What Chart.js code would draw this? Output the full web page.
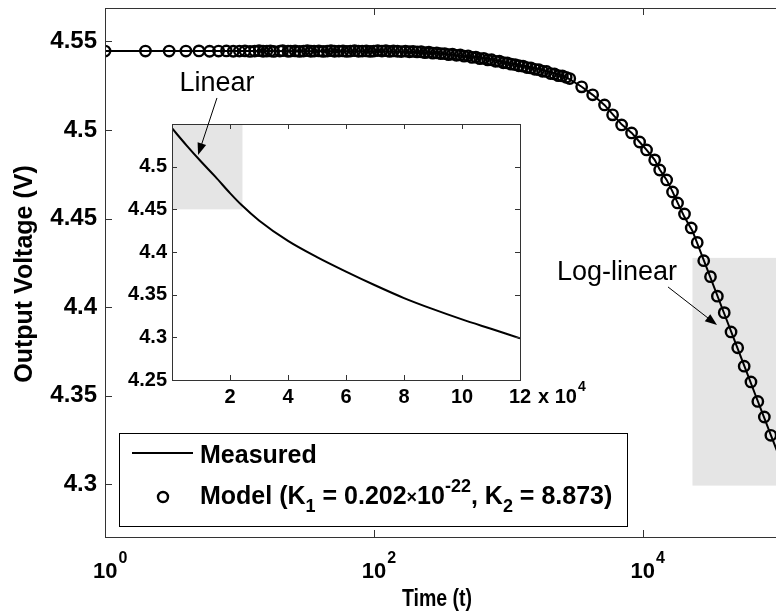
<!DOCTYPE html>
<html><head><meta charset="utf-8">
<script src="https://cdn.jsdelivr.net/npm/chart.js@4.4.1/dist/chart.umd.min.js"></script>
<style>
html,body{margin:0;padding:0;background:#fff;overflow:hidden;width:776px;height:612px;}
#main{position:absolute;left:0;top:0;}
#inset{position:absolute;left:110px;top:60px;}
</style></head><body>
<canvas id="main" width="790" height="612"></canvas>
<canvas id="inset" width="490" height="360"></canvas>
<script>
// main plot: measured curve (line) and model (circles), time on log axis
const measT = [1,10,100,200,300,500,700,1000,1500,2000,2700,3500,4250,5200,6000,7000,8300,9500,10700,12300,13400,15100,16700,18200,20500,23500,30000,40000,50000,60000,70000,80000,90000,100000];
const measV = [4.5445,4.5445,4.5444,4.544,4.5432,4.5415,4.5401,4.5378,4.5353,4.533,4.5298,4.5245,4.5198,4.5141,4.5088,4.503,4.4983,4.4932,4.4887,4.4831,4.4777,4.4718,4.4652,4.459,4.4508,4.443,4.4221,4.3974,4.3783,4.3626,4.3493,4.3379,4.3278,4.3189];

const modelT = [1,2,3,4,5,6,7,8,9,10,11,12,13,14,15,16,17,18,20,21,23,24,26,28,30,32,34,36,39,42,45,48,51,55,59,63,67,72,77,82,88,94,100,
  107,115,123,131,140,150,160,172,184,196,210,225,240,257,275,294,315,337,360,385,412,440,470,503,538,575,615,658,704,752,
  805,860,920,985,1050,1125,1200,1290,1380,1475,1580,1690,1800,1930,2065,2210,2360,2530,2700,
  2870,3520,4250,5210,5980,6980,8280,9500,10700,12300,13400,15100,16700,18200,
  20500,23000,25500,28500,32000,36000,40500,45500,51000,57000,64000,72000,80500,90000];
const modelV = [4.5445,4.5445,4.5445,4.5445,4.5446,4.5444,4.5445,4.5446,4.5444,4.5445,4.5446,4.5443,4.5445,4.5447,4.5444,4.5445,4.5446,4.5443,
  4.5445,4.5447,4.5444,4.5445,4.5446,4.5443,4.5445,4.5447,4.5444,4.5445,4.5446,4.5443,4.5445,4.5447,4.5444,4.5445,4.5446,4.5443,4.5445,4.5447,4.5444,4.5445,4.5446,4.5443,4.5445,
  4.5448,4.5445,4.5447,4.5443,4.5446,4.5444,4.5442,4.5445,4.5441,4.5443,
  4.544,4.5441,4.5436,4.5439,4.5433,4.5435,4.543,4.5431,4.5425,4.5428,
  4.5421,4.5423,4.5416,4.5418,4.5409,4.5411,4.5402,4.5404,4.5395,4.5396,
  4.5387,4.5388,4.5379,4.5378,4.5371,4.5369,4.5362,4.536,4.5352,4.535,
  4.5342,4.534,4.5331,4.533,4.5318,4.5316,4.5306,4.5305,4.5297,
  4.529,4.5243,4.5198,4.5141,4.5085,4.5028,4.4983,4.4932,4.4887,4.4831,4.4774,4.4718,4.465,4.4588,
  4.4526,4.4447,4.4365,4.4262,4.4172,4.4062,4.3969,4.386,4.3771,4.3667,4.3578,4.3468,4.338,4.3277];

const mainXTicks = [1, 100, 10000];
const mainXExp = ['0', '2', '4'];
const mainYTicks = [4.3, 4.35, 4.4, 4.45, 4.5, 4.55];

// inset: measured voltage vs time (x 10^4), linear axis
const insetT = [0,0.5,1,1.5,2,2.4,3,4,5,6,7,8,9,10,11,12];
const insetV = [4.545,4.525,4.506,4.488,4.469,4.455,4.437,4.413,4.394,4.377,4.361,4.346,4.333,4.321,4.31,4.299];
const insetXTicks = [2,4,6,8,10,12];
const insetYTicks = [4.25,4.3,4.35,4.4,4.45,4.5];

const F = '"Liberation Sans", Arial, sans-serif';
const AX = '#333';

function arrow(ctx, x1, y1, x2, y2) {
  const a = Math.atan2(y2-y1, x2-x1), L = 12, W = 4.5;
  ctx.beginPath(); ctx.moveTo(x1, y1); ctx.lineTo(x2 - 8*Math.cos(a), y2 - 8*Math.sin(a)); ctx.stroke();
  ctx.beginPath(); ctx.moveTo(x2, y2);
  ctx.lineTo(x2 - L*Math.cos(a) + W*Math.sin(a), y2 - L*Math.sin(a) - W*Math.cos(a));
  ctx.lineTo(x2 - L*Math.cos(a) - W*Math.sin(a), y2 - L*Math.sin(a) + W*Math.cos(a));
  ctx.closePath(); ctx.fill();
}

// draws text (raised/lowered by dy), returns end x
function part(ctx, x, y, txt, size, dy) {
  ctx.font = 'bold ' + size + 'px ' + F;
  ctx.fillText(txt, x, y + (dy || 0));
  return x + ctx.measureText(txt).width;
}

function boxTicks(ctx, a, xs, ys, len, rightTicks) {
  ctx.save();
  ctx.strokeStyle = AX; ctx.lineWidth = 1;
  ctx.beginPath();
  xs.forEach(px => { px = Math.round(px) + 0.5;
    ctx.moveTo(px, a.bottom); ctx.lineTo(px, a.bottom - len);
    ctx.moveTo(px, a.top); ctx.lineTo(px, a.top + len); });
  ys.forEach(py => { py = Math.round(py) + 0.5;
    ctx.moveTo(a.left, py); ctx.lineTo(a.left + len, py);
    if (rightTicks) { ctx.moveTo(a.right, py); ctx.lineTo(a.right - len, py); } });
  ctx.stroke();
  ctx.strokeRect(Math.round(a.left) + 0.5, Math.round(a.top) + 0.5, Math.round(a.right - a.left), Math.round(a.bottom - a.top));
  ctx.restore();
}

const mainDeco = {
  id: 'mainDeco',
  beforeDatasetsDraw(chart) {
    const {ctx, chartArea: a, scales: {x, y}} = chart;
    ctx.save();
    ctx.fillStyle = '#e5e5e5';
    const x0 = x.getPixelForValue(23500), y0 = y.getPixelForValue(4.4278), y1 = y.getPixelForValue(4.2993);
    ctx.fillRect(x0, y0, a.right - x0, y1 - y0);
    ctx.restore();
  },
  afterDatasetsDraw(chart) {
    const {ctx, chartArea: a, scales: {x, y}} = chart;
    boxTicks(ctx, a, mainXTicks.map(v => x.getPixelForValue(v)), mainYTicks.map(v => y.getPixelForValue(v)), 7, false);
    ctx.save();
    ctx.fillStyle = '#000'; ctx.strokeStyle = '#000';
    // x tick labels 10^n
    ctx.textBaseline = 'alphabetic'; ctx.textAlign = 'left';
    mainXTicks.forEach((v, i) => {
      const px = x.getPixelForValue(v);
      let sx = part(ctx, px - 12, a.bottom + 41, '10', 22);
      part(ctx, sx + 1, a.bottom + 41, mainXExp[i], 16, -15);
    });
    // axis titles
    ctx.font = 'bold 23px ' + F; ctx.textAlign = 'center';
    ctx.save();
    ctx.translate((a.left + a.right) / 2 - 4, 606); ctx.scale(0.85, 1);
    ctx.fillText('Time (t)', 0, 0);
    ctx.restore();
    ctx.font = 'bold 25px ' + F;
    ctx.save();
    ctx.translate(32, 274); ctx.rotate(-Math.PI / 2);
    ctx.fillText('Output Voltage (V)', 0, 0);
    ctx.restore();
    // log-linear annotation
    ctx.font = '27px ' + F; ctx.textAlign = 'center'; ctx.textBaseline = 'middle';
    ctx.fillText('Log-linear', x.getPixelForValue(6450), y.getPixelForValue(4.4198));
    ctx.lineWidth = 1;
    arrow(ctx, x.getPixelForValue(15450), y.getPixelForValue(4.4114), x.getPixelForValue(35780), y.getPixelForValue(4.3899));
    // legend
    const lx = a.left + 14, ly = a.top + 425;
    ctx.fillStyle = '#fff'; ctx.fillRect(lx, ly, 508, 93);
    ctx.strokeStyle = '#000'; ctx.lineWidth = 1; ctx.strokeRect(lx + 0.5, ly + 0.5, 508, 93);
    ctx.lineWidth = 2;
    ctx.beginPath(); ctx.moveTo(lx + 13, ly + 20); ctx.lineTo(lx + 74, ly + 20); ctx.stroke();
    ctx.lineWidth = 2.4;
    ctx.beginPath(); ctx.arc(lx + 44, ly + 64, 5, 0, Math.PI * 2); ctx.stroke();
    ctx.fillStyle = '#000'; ctx.textAlign = 'left'; ctx.textBaseline = 'alphabetic';
    part(ctx, lx + 81, ly + 30, 'Measured', 25);
    let sx = lx + 81, by = ly + 71;
    sx = part(ctx, sx, by, 'Model (K', 25);
    sx = part(ctx, sx, by, '1', 18, 8);
    sx = part(ctx, sx, by, ' = 0.202', 25);
    sx = part(ctx, sx, by, '\u00d7', 18, -1);
    sx = part(ctx, sx, by, '10', 25);
    sx = part(ctx, sx, by, '-22', 18, -12);
    sx = part(ctx, sx, by, ', K', 25);
    sx = part(ctx, sx, by, '2', 18, 8);
    part(ctx, sx, by, ' = 8.873)', 25);
    ctx.restore();
  }
};

const insetDeco = {
  id: 'insetDeco',
  beforeDatasetsDraw(chart) {
    const {ctx, chartArea: a, scales: {x, y}} = chart;
    ctx.save();
    ctx.fillStyle = '#fff'; ctx.fillRect(a.left, a.top, a.right - a.left, a.bottom - a.top);
    ctx.fillStyle = '#e5e5e5';
    const x1 = x.getPixelForValue(2.43), y1 = y.getPixelForValue(4.45);
    ctx.fillRect(a.left, a.top, x1 - a.left, y1 - a.top);
    ctx.restore();
  },
  afterDatasetsDraw(chart) {
    const {ctx, chartArea: a, scales: {x, y}} = chart;
    boxTicks(ctx, a, insetXTicks.map(v => x.getPixelForValue(v)), insetYTicks.map(v => y.getPixelForValue(v)), 5, true);
    ctx.save();
    ctx.fillStyle = '#000'; ctx.strokeStyle = '#000';
    // multiplier after last tick label
    ctx.textAlign = 'left'; ctx.textBaseline = 'alphabetic';
    let sx = x.getPixelForValue(12) + 18, by = a.bottom + 23;
    sx = part(ctx, sx, by, 'x 10', 20);
    part(ctx, sx + 1, by, '4', 14, -12);
    // linear annotation
    ctx.font = '27px ' + F; ctx.textAlign = 'center'; ctx.textBaseline = 'middle';
    ctx.fillText('Linear', x.getPixelForValue(1.55), y.getPixelForValue(4.5969));
    ctx.lineWidth = 1;
    arrow(ctx, x.getPixelForValue(1.55), y.getPixelForValue(4.5805), x.getPixelForValue(0.9), y.getPixelForValue(4.5137));
    ctx.restore();
  }
};

const fmt = v => String(+(+v).toFixed(2));
const noPad = s => { s.paddingTop = 0; s.paddingBottom = 0; s.paddingLeft = 0; s.paddingRight = 0; };

new Chart(document.getElementById('main'), {
  type: 'scatter',
  data: { datasets: [
    { label: 'Measured', data: measT.map((t, i) => ({x: t, y: measV[i]})), showLine: true, borderColor: '#000', borderWidth: 2, pointRadius: 0, order: 0 },
    { label: 'Model', data: modelT.map((t, i) => ({x: t, y: modelV[i]})), showLine: false, pointRadius: 5.2, borderColor: '#000', borderWidth: 2.4, backgroundColor: 'rgba(0,0,0,0)', order: 1 }
  ]},
  options: {
    responsive: false, animation: false, events: [],
    layout: { padding: { top: 8, right: 13, left: 0, bottom: 0 } },
    plugins: { legend: { display: false }, tooltip: { enabled: false } },
    scales: {
      x: { type: 'logarithmic', min: 1, max: 1e5, grid: { display: false, drawTicks: false }, border: { display: false },
        ticks: { display: false },
        afterBuildTicks: s => { s.ticks = mainXTicks.map(v => ({value: v})); },
        afterFit: s => { s.height = 75; noPad(s); } },
      y: { type: 'linear', min: 4.2703, max: 4.5688, grid: { display: false, drawTicks: false }, border: { display: false },
        ticks: { font: { family: F, size: 24, weight: 'bold' }, color: '#000', padding: 8, callback: fmt },
        afterBuildTicks: s => { s.ticks = mainYTicks.map(v => ({value: v})); },
        afterFit: s => { s.width = 105; noPad(s); } }
    }
  },
  plugins: [mainDeco]
});

new Chart(document.getElementById('inset'), {
  type: 'scatter',
  data: { datasets: [
    { label: 'Measured', data: insetT.map((t, i) => ({x: t, y: insetV[i]})), showLine: true, borderColor: '#000', borderWidth: 2, pointRadius: 0, cubicInterpolationMode: 'monotone' }
  ]},
  options: {
    responsive: false, animation: false, events: [],
    layout: { padding: { top: 64, right: 80, left: 0, bottom: 0 } },
    plugins: { legend: { display: false }, tooltip: { enabled: false } },
    scales: {
      x: { type: 'linear', min: 0, max: 12, grid: { display: false, drawTicks: false }, border: { display: false },
        ticks: { font: { family: F, size: 20, weight: 'bold' }, color: '#000', padding: 5, callback: fmt },
        afterBuildTicks: s => { s.ticks = insetXTicks.map(v => ({value: v})); },
        afterFit: s => { s.height = 40; noPad(s); } },
      y: { type: 'linear', min: 4.25, max: 4.55, grid: { display: false, drawTicks: false }, border: { display: false },
        ticks: { font: { family: F, size: 20, weight: 'bold' }, color: '#000', padding: 5, callback: fmt },
        afterBuildTicks: s => { s.ticks = insetYTicks.map(v => ({value: v})); },
        afterFit: s => { s.width = 62; noPad(s); } }
    }
  },
  plugins: [insetDeco]
});
</script>
</body></html>
